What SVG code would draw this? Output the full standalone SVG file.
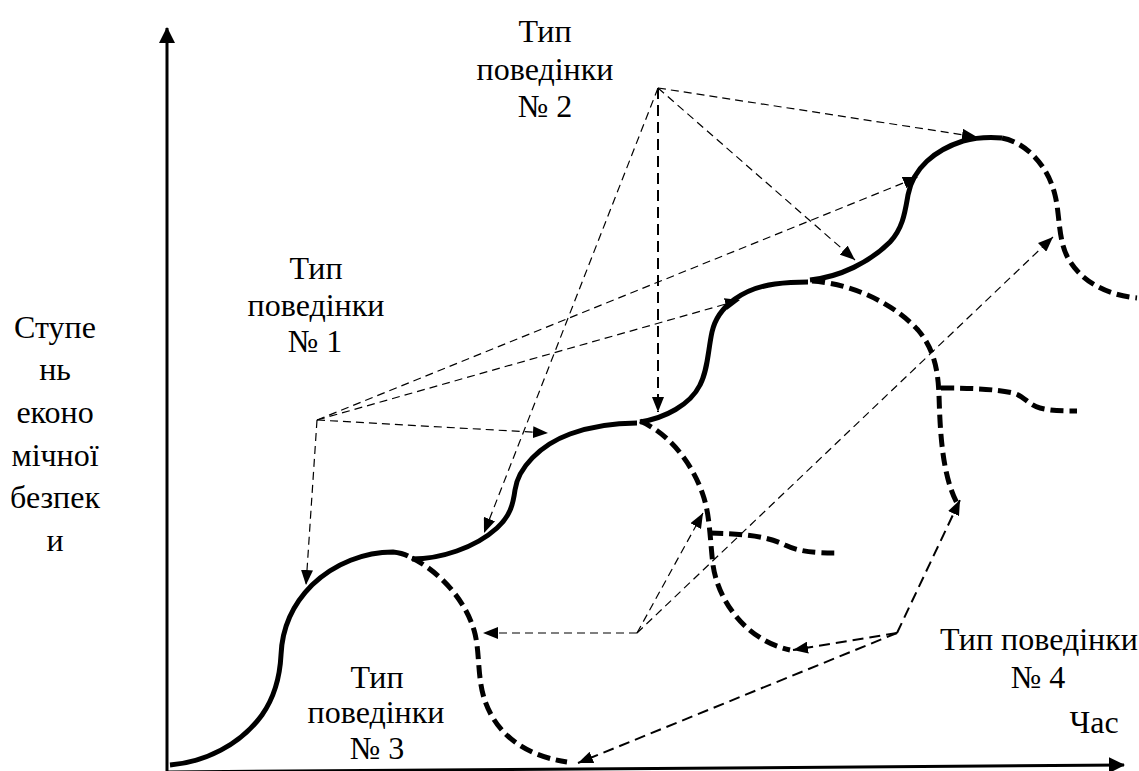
<svg xmlns="http://www.w3.org/2000/svg" width="1139" height="771" viewBox="0 0 1139 771">
<style>
  .t { font-family: 'Liberation Serif', 'DejaVu Serif', 'Times New Roman', serif; font-size: 32px; fill: #000; text-anchor: middle; }
  .axis { stroke: #000; stroke-width: 3; fill: none; }
  .solid { stroke: #000; stroke-width: 5; fill: none; stroke-linecap: butt; }
  .dash { stroke: #000; stroke-width: 5; fill: none; stroke-dasharray: 13 6; }
  .thin { stroke: #000; stroke-width: 1.2; fill: none; stroke-dasharray: 8 5; }
  .mid { stroke: #000; stroke-width: 2; fill: none; stroke-dasharray: 11 6; }
</style>
<defs>
  <marker id="ah" markerUnits="userSpaceOnUse" markerWidth="15" markerHeight="12" refX="15" refY="6" orient="auto">
    <path d="M0,0 L15,6 L0,12 z" fill="#000"/>
  </marker>
  <marker id="axh" markerUnits="userSpaceOnUse" markerWidth="16" markerHeight="16" refX="15" refY="8" orient="auto">
    <path d="M0,0 L16,8 L0,16 z" fill="#000"/>
  </marker>
</defs>

<g id="axes">
  <path class="axis" d="M167,771 L167,28" marker-end="url(#axh)"/>
  <path class="axis" d="M167,772 L1124,765" marker-end="url(#axh)"/>
</g>

<g id="curve">
  <path class="solid" d="M170,765 C205,762 240,745 262,715 C276,695 280,675 281,655 C282,630 292,605 312,585 C335,563 365,552 393,552 Q402,553 408,556"/>
  <path class="solid" d="M412,559 C440,559 475,548 497,528 C510,516 513,505 515,490 C518,468 540,445 570,434 C595,425 615,423 637,423"/>
  <path class="solid" d="M640,422 C665,418 690,405 700,385 C708,370 708,350 712,332 C718,305 745,288 775,284 C790,282 800,282 808,282"/>
  <path class="solid" d="M810,280 C840,277 870,262 890,242 C903,228 905,212 908,195 C913,168 935,150 963,141 C978,137 990,137 1002,138"/>
</g>

<g id="branches">
  <path class="dash" d="M412,558 C440,572 465,600 474,630 C480,650 477,675 484,698 C494,730 520,755 567,762"/>
  <path class="dash" d="M640,421 C668,433 692,462 703,495 C710,515 710,540 713,565 C718,600 745,640 790,650"/>
  <path class="dash" d="M710,533 C740,534 765,535 785,545 C800,552 815,553 837,553"/>
  <path class="dash" d="M812,281 C855,284 895,305 918,330 C935,350 938,372 939,395 C940,430 942,475 957,503"/>
  <path class="dash" d="M941,388 C970,388 995,389 1013,393 C1025,396 1028,405 1040,408 C1052,411 1065,411 1077,411"/>
  <path class="dash" d="M1002,138 C1025,142 1048,165 1055,195 C1060,215 1058,240 1068,258 C1080,280 1105,295 1137,298"/>
</g>

<g id="connectors">
  <path class="thin" d="M317,420 L306,585" marker-end="url(#ah)"/>
  <path class="thin" d="M317,420 L548,433" marker-end="url(#ah)"/>
  <path class="thin" d="M317,420 L740,300" marker-end="url(#ah)"/>
  <path class="thin" d="M317,420 L918,177" marker-end="url(#ah)"/>
  <path class="thin" d="M658,88 L977,137" marker-end="url(#ah)"/>
  <path class="thin" d="M658,88 L855,260" marker-end="url(#ah)"/>
  <path class="mid" d="M658,88 L658,412" marker-end="url(#ah)"/>
  <path class="thin" d="M658,88 L484,533" marker-end="url(#ah)"/>
  <path class="thin" d="M637,633 L483,633" marker-end="url(#ah)"/>
  <path class="thin" d="M637,633 L703,513" marker-end="url(#ah)"/>
  <path class="thin" d="M637,633 L1053,237" marker-end="url(#ah)"/>
  <path class="mid" d="M897,633 L793,650" marker-end="url(#ah)"/>
  <path class="mid" d="M897,633 L960,500" marker-end="url(#ah)"/>
  <path class="mid" d="M897,633 L578,763" marker-end="url(#ah)"/>
</g>

<g id="label-y" font-family="Liberation Serif, serif">
  <text class="t" x="55" y="338">Ступе</text>
  <text class="t" x="55" y="380">нь</text>
  <text class="t" x="55" y="423">еконо</text>
  <text class="t" x="55" y="466">мічної</text>
  <text class="t" x="55" y="508">безпек</text>
  <text class="t" x="55" y="551">и</text>
</g>
<g id="type1" font-family="Liberation Serif, serif">
  <text class="t" x="316" y="279">Тип</text>
  <text class="t" x="316" y="316">поведінки</text>
  <text class="t" x="315" y="352">№ 1</text>
</g>
<g id="type2" font-family="Liberation Serif, serif">
  <text class="t" x="545" y="42">Тип</text>
  <text class="t" x="545" y="80">поведінки</text>
  <text class="t" x="545" y="117">№ 2</text>
</g>
<g id="type3" font-family="Liberation Serif, serif">
  <text class="t" x="377" y="688">Тип</text>
  <text class="t" x="376" y="723">поведінки</text>
  <text class="t" x="377" y="759">№ 3</text>
</g>
<g id="type4" font-family="Liberation Serif, serif">
  <text class="t" x="1039" y="650">Тип поведінки</text>
  <text class="t" x="1038" y="688">№ 4</text>
  <text class="t" x="1094" y="733">Час</text>
</g>
</svg>
